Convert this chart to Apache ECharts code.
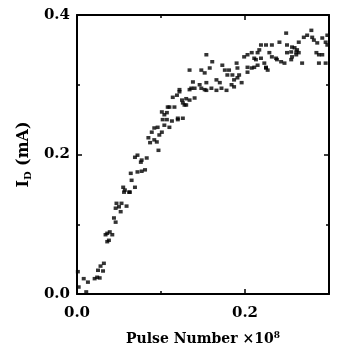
<!DOCTYPE html>
<html>
<head>
<meta charset="utf-8">
<script src="https://cdn.jsdelivr.net/npm/echarts@6/dist/echarts.min.js"></script>
<style>
html,body{margin:0;padding:0;background:#fff;}
#chart{width:341px;height:356px;}
</style>
</head>
<body>
<div id="chart"></div>
<script>
// Pulse number (x10^8)
var pulseNumber = [
0.001,0.002,0.008,0.011,0.013,0.021,0.024,0.027,0.025,0.028,0.032,0.031,
0.034,0.036,0.039,0.042,0.036,0.038,0.044,0.046,0.046,0.050,0.047,0.053,0.059,0.052,
0.056,0.062,0.055,0.057,0.063,0.065,0.069,0.064,0.072,0.077,0.081,
0.069,0.072,0.076,0.077,0.083,0.097,0.085,0.087,0.092,0.095,0.089,0.092,0.096,0.101,0.098,
0.104,0.110,0.102,0.107,0.113,0.104,0.101,0.107,0.110,0.116,0.120,0.114,0.119,0.122,
0.154,0.134,0.148,0.152,0.122,0.138,0.136,0.140,0.146,0.148,0.152,0.134,
0.125,0.130,0.134,0.126,0.128,0.140,0.108,0.130,0.120,0.126,
0.161,0.158,0.173,0.176,0.181,0.190,0.191,0.179,0.185,0.193,
0.199,0.203,0.208,0.211,0.213,0.215,0.217,0.219,0.225,
0.203,0.208,0.211,0.215,0.219,0.223,0.225,0.203,
0.166,0.170,0.160,0.166,0.172,0.178,0.184,0.187,0.191,0.196,0.187,0.154,0.154,
0.232,0.241,0.249,0.250,0.256,0.261,0.262,0.264,0.270,0.274,0.280,0.282,0.286,0.292,0.296,0.279,
0.229,0.232,0.237,0.238,0.243,0.247,0.250,0.255,0.259,0.256,0.261,0.264,0.255,
0.225,0.227,0.268,0.285,0.288,0.292,0.288,0.296,0.298,0.298
];
// Drain current I_D (mA)
var drainCurrent = [
0.032,0.010,0.022,0.003,0.017,0.022,0.024,0.023,0.034,0.040,0.044,0.033,
0.085,0.087,0.089,0.085,0.075,0.077,0.109,0.103,0.123,0.125,0.130,0.130,0.126,0.118,
0.146,0.146,0.153,0.149,0.146,0.163,0.153,0.173,0.175,0.176,0.178,
0.196,0.199,0.189,0.192,0.195,0.206,0.224,0.217,0.221,0.218,0.232,0.238,0.239,0.232,0.228,
0.242,0.239,0.250,0.250,0.248,0.257,0.261,0.260,0.268,0.268,0.250,0.282,0.285,0.290,
0.343,0.321,0.321,0.317,0.293,0.304,0.295,0.295,0.300,0.295,0.293,0.293,
0.278,0.280,0.278,0.274,0.271,0.281,0.268,0.271,0.252,0.252,
0.333,0.324,0.328,0.321,0.321,0.331,0.324,0.314,0.314,0.314,
0.340,0.343,0.346,0.338,0.336,0.346,0.350,0.357,0.357,
0.325,0.324,0.325,0.328,0.338,0.331,0.324,0.318,
0.307,0.303,0.295,0.292,0.295,0.292,0.300,0.307,0.310,0.303,0.297,0.303,0.292,
0.357,0.361,0.374,0.357,0.354,0.347,0.350,0.361,0.368,0.371,0.368,0.364,0.360,0.367,0.361,0.378,
0.346,0.340,0.338,0.336,0.333,0.331,0.346,0.347,0.353,0.340,0.343,0.346,0.336,
0.325,0.321,0.331,0.346,0.343,0.343,0.331,0.331,0.357,0.371
];
var xTicks = [0.0, 0.2];
var yTicks = [0.0, 0.2, 0.4];

var points = pulseNumber.map(function (x, i) { return [x, drainCurrent[i]]; });

var FONT = 'DejaVu Serif';
var chart = echarts.init(document.getElementById('chart'), null, {renderer: 'canvas'});
var axisCommon = {
  axisLine: {show: true, onZero: false, lineStyle: {color: '#000', width: 2}},
  axisTick: {show: true, inside: true, length: 5, lineStyle: {color: '#000', width: 1.5}},
  minorTick: {show: true, splitNumber: 2, length: 3, lineStyle: {color: '#000', width: 1.5}},
  splitLine: {show: false},
  minorSplitLine: {show: false}
};
chart.setOption({
  animation: false,
  backgroundColor: '#fff',
  grid: {left: 77, right: 12, top: 15, bottom: 62, containLabel: false},
  xAxis: [
    Object.assign({
      type: 'value', min: 0, max: 0.3, interval: 0.2, position: 'bottom',
      axisLabel: {show: true, margin: 12, fontFamily: FONT, fontWeight: 'bold', fontSize: 15, color: '#000',
        showMaxLabel: false,
        formatter: function (v) { return xTicks.indexOf(Math.round(v * 10) / 10) >= 0 ? v.toFixed(1) : ''; }},
      name: 'Pulse Number ×10{sup|8}',
      nameLocation: 'middle', nameGap: 37,
      nameTextStyle: {fontFamily: FONT, fontWeight: 'bold', fontSize: 14, color: '#000',
        rich: {sup: {fontFamily: FONT, fontWeight: 'bold', fontSize: 9, color: '#000', verticalAlign: 'top', padding: [0, 0, 8, 0]}}}
    }, axisCommon),
    Object.assign({
      type: 'value', min: 0, max: 0.3, interval: 0.2, position: 'top',
      axisLabel: {show: false}
    }, axisCommon)
  ],
  yAxis: [
    Object.assign({
      type: 'value', min: 0, max: 0.4, interval: 0.2, position: 'left',
      axisLabel: {show: true, margin: 7, fontFamily: FONT, fontWeight: 'bold', fontSize: 15, color: '#000',
        formatter: function (v) { return yTicks.indexOf(Math.round(v * 10) / 10) >= 0 ? v.toFixed(1) : ''; }},
      name: '{b|I}{sub|D}{b| (mA)}',
      nameLocation: 'middle', nameGap: 44, nameRotate: 90,
      nameTextStyle: {
        rich: {
          b: {fontFamily: FONT, fontWeight: 'bold', fontSize: 16, color: '#000'},
          sub: {fontFamily: FONT, fontWeight: 'bold', fontSize: 10, color: '#000', verticalAlign: 'bottom', padding: [9, 0, 0, 0]}
        }
      }
    }, axisCommon),
    Object.assign({
      type: 'value', min: 0, max: 0.4, interval: 0.2, position: 'right',
      axisLabel: {show: false}
    }, axisCommon)
  ],
  series: [{
    type: 'scatter',
    xAxisIndex: 0, yAxisIndex: 0,
    symbol: 'rect',
    symbolSize: [4, 3.5],
    itemStyle: {color: '#000'},
    data: points
  }]
});
</script>
</body>
</html>
